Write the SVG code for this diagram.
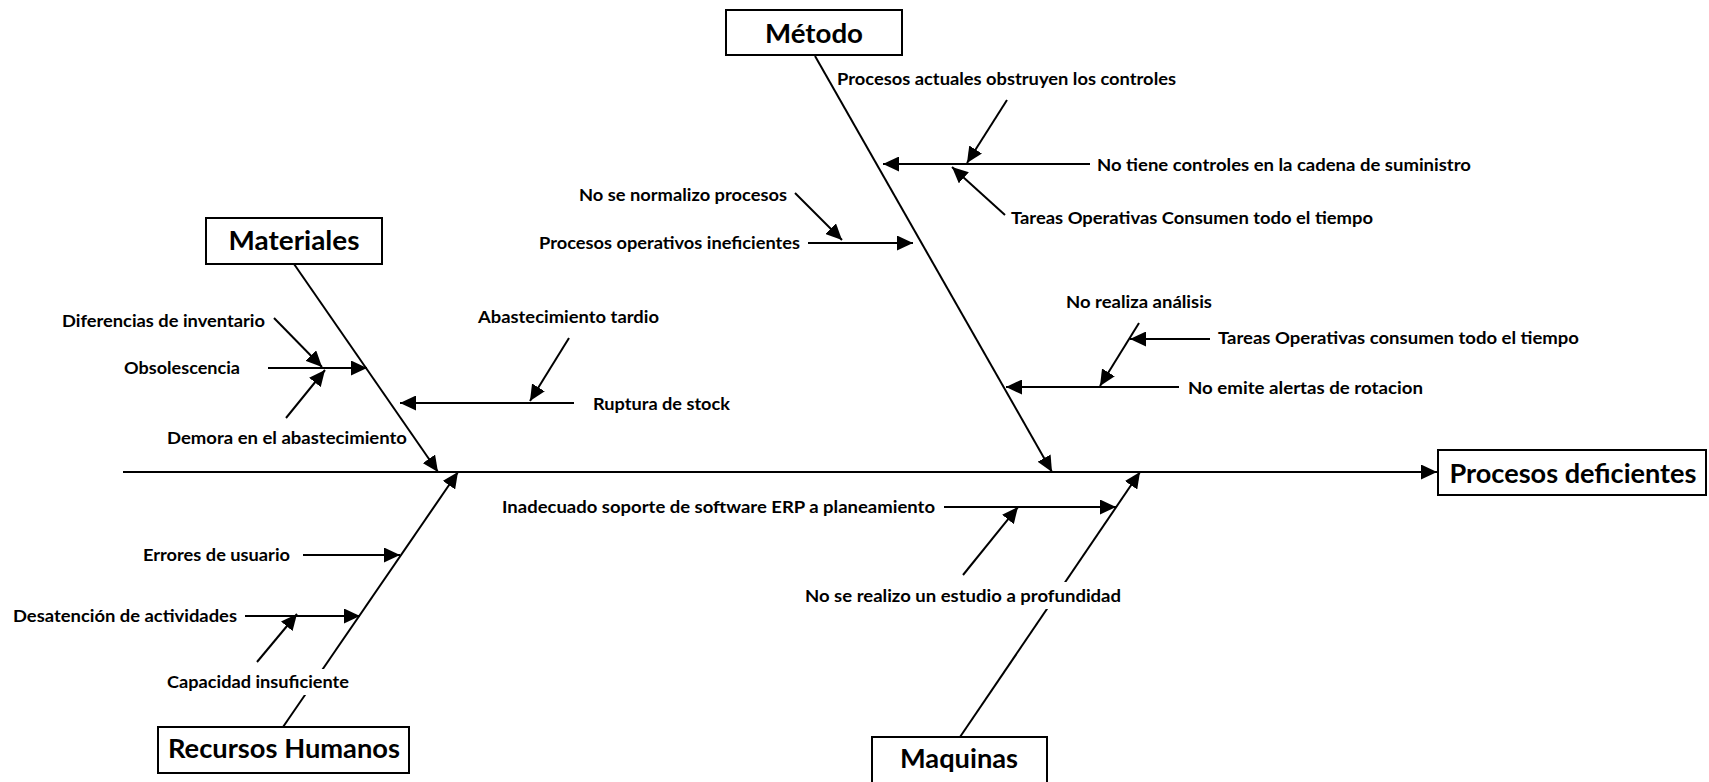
<svg xmlns="http://www.w3.org/2000/svg" width="1709" height="782" viewBox="0 0 1709 782">
  <style>
    .bg { fill: #ffffff; }
    .box { fill: #ffffff; stroke: #000000; stroke-width: 2; }
    .title { font-family: Lato, "Open Sans", "Liberation Sans", sans-serif; font-weight: 700; font-size: 26.5px; fill: #000000; text-anchor: middle; }
    .lbl { font-family: Lato, "Open Sans", "Liberation Sans", sans-serif; font-weight: 700; font-size: 16.8px; fill: #000000; }
    .ln { stroke: #000000; stroke-width: 2; fill: none; }
    .arr { stroke: #000000; stroke-width: 2; fill: none; marker-end: url(#head); }
  </style>
  <defs>
    <marker id="head" markerUnits="userSpaceOnUse" markerWidth="17" markerHeight="15" refX="16" refY="7.5" orient="auto">
      <path d="M0,0 L16,7.5 L0,15 z" fill="#000000"/>
    </marker>
  </defs>
  <rect width="1709" height="782" fill="#ffffff"/>

  <!-- connectors: spine, category bones and cause arrows -->
  <g id="connectors">
    <line class="arr" x1="123" y1="472" x2="1437" y2="472"/>
    <line class="arr" x1="294" y1="264" x2="438" y2="472"/>
    <line class="arr" x1="815" y1="56" x2="1052" y2="472"/>
    <line class="arr" x1="283" y1="727" x2="458" y2="472"/>
    <line class="arr" x1="960" y1="737" x2="1140" y2="472"/>

    <!-- Método causes -->
    <line class="arr" x1="1007" y1="100" x2="967" y2="163"/>
    <line class="arr" x1="1090" y1="164" x2="883" y2="164"/>
    <line class="arr" x1="1005" y1="215" x2="952" y2="167"/>
    <line class="arr" x1="795" y1="193" x2="842" y2="240"/>
    <line class="arr" x1="808" y1="243" x2="913" y2="243"/>
    <line class="arr" x1="1139" y1="323" x2="1100" y2="386"/>
    <line class="arr" x1="1210" y1="339" x2="1130" y2="339"/>
    <line class="arr" x1="1179" y1="387" x2="1006" y2="387"/>

    <!-- Materiales causes -->
    <line class="arr" x1="274" y1="318" x2="322" y2="367"/>
    <line class="arr" x1="268" y1="368" x2="367" y2="368"/>
    <line class="arr" x1="286" y1="418" x2="325" y2="370"/>
    <line class="arr" x1="569" y1="338" x2="530" y2="401"/>
    <line class="arr" x1="574" y1="403" x2="400" y2="403"/>

    <!-- Maquinas causes -->
    <line class="arr" x1="944" y1="507" x2="1116" y2="507"/>
    <line class="arr" x1="963" y1="575" x2="1018" y2="507"/>

    <!-- Recursos Humanos causes -->
    <line class="arr" x1="303" y1="555" x2="400" y2="555"/>
    <line class="arr" x1="245" y1="616" x2="360" y2="616"/>
    <line class="arr" x1="257" y1="662" x2="297" y2="614"/>
  </g>

  <!-- cause labels -->
  <g id="labels">
    <text class="lbl" x="837" y="85" textLength="339" lengthAdjust="spacingAndGlyphs">Procesos actuales obstruyen los controles</text>
    <text class="lbl" x="1097" y="171" textLength="374" lengthAdjust="spacingAndGlyphs">No tiene controles en la cadena de suministro</text>
    <text class="lbl" x="1011" y="224" textLength="362" lengthAdjust="spacingAndGlyphs">Tareas Operativas Consumen todo el tiempo</text>
    <text class="lbl" x="579" y="201" textLength="208" lengthAdjust="spacingAndGlyphs">No se normalizo procesos</text>
    <text class="lbl" x="539" y="249" textLength="261" lengthAdjust="spacingAndGlyphs">Procesos operativos ineficientes</text>
    <text class="lbl" x="1066" y="308" textLength="146" lengthAdjust="spacingAndGlyphs">No realiza análisis</text>
    <text class="lbl" x="1218" y="344" textLength="361" lengthAdjust="spacingAndGlyphs">Tareas Operativas consumen todo el tiempo</text>
    <text class="lbl" x="1188" y="394" textLength="235" lengthAdjust="spacingAndGlyphs">No emite alertas de rotacion</text>

    <text class="lbl" x="62" y="327" textLength="203" lengthAdjust="spacingAndGlyphs">Diferencias de inventario</text>
    <text class="lbl" x="124" y="374" textLength="116" lengthAdjust="spacingAndGlyphs">Obsolescencia</text>
    <text class="lbl" x="167" y="444" textLength="240" lengthAdjust="spacingAndGlyphs">Demora en el abastecimiento</text>
    <text class="lbl" x="478" y="323" textLength="181" lengthAdjust="spacingAndGlyphs">Abastecimiento tardio</text>
    <text class="lbl" x="593" y="410" textLength="137" lengthAdjust="spacingAndGlyphs">Ruptura de stock</text>

    <text class="lbl" x="502" y="513" textLength="433" lengthAdjust="spacingAndGlyphs">Inadecuado soporte de software ERP a planeamiento</text>
    <rect class="bg" x="802" y="582" width="322" height="27"/>
    <text class="lbl" x="805" y="602" textLength="316" lengthAdjust="spacingAndGlyphs">No se realizo un estudio a profundidad</text>

    <text class="lbl" x="143" y="561" textLength="147" lengthAdjust="spacingAndGlyphs">Errores de usuario</text>
    <text class="lbl" x="13" y="622" textLength="224" lengthAdjust="spacingAndGlyphs">Desatención de actividades</text>
    <rect class="bg" x="164" y="669" width="187" height="26"/>
    <text class="lbl" x="167" y="688" textLength="182" lengthAdjust="spacingAndGlyphs">Capacidad insuficiente</text>
  </g>

  <!-- category and effect boxes -->
  <g id="metodo">
    <rect class="box" x="726" y="10" width="176" height="45"/>
    <text class="title" x="814" y="43" textLength="98" lengthAdjust="spacingAndGlyphs">Método</text>
  </g>
  <g id="materiales">
    <rect class="box" x="206" y="218" width="176" height="46"/>
    <text class="title" x="294" y="250" textLength="131" lengthAdjust="spacingAndGlyphs">Materiales</text>
  </g>
  <g id="recursos-humanos">
    <rect class="box" x="158" y="727" width="251" height="46"/>
    <text class="title" x="284" y="758" textLength="232" lengthAdjust="spacingAndGlyphs">Recursos Humanos</text>
  </g>
  <g id="maquinas">
    <rect class="box" x="872" y="737" width="175" height="48"/>
    <text class="title" x="959" y="768" textLength="118" lengthAdjust="spacingAndGlyphs">Maquinas</text>
  </g>
  <g id="procesos-deficientes">
    <rect class="box" x="1438" y="450" width="268" height="45"/>
    <text class="title" x="1573" y="483" textLength="247" lengthAdjust="spacingAndGlyphs">Procesos deficientes</text>
  </g>
</svg>
